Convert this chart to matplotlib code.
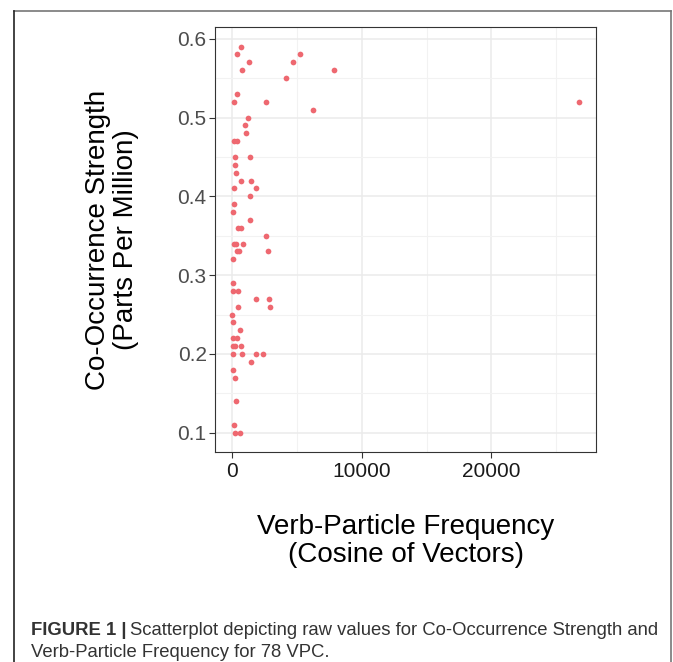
import numpy as np
import matplotlib
matplotlib.use("Agg")
import matplotlib.pyplot as plt
from matplotlib.ticker import MultipleLocator

# Data (verb-particle frequency vs co-occurrence strength)
freq = [670, 360, 5230, 1260, 4690, 750, 7850, 4130, 360, 100,
        2570, 26750, 6230, 1210, 950, 1030, 150, 360, 210, 1340,
        210, 290, 650, 1460, 100, 1850, 1390, 150, 50, 1340,
        430, 660, 2590, 150, 260, 800, 340, 540, 2750, 30,
        80, 80, 460, 1850, 2820, 410, 2900, 0, 30, 620,
        50, 330, 20, 210, 670, 30, 750, 1850, 2360, 1410,
        50, 180, 310, 150, 180, 620]
strength = [0.59, 0.58, 0.58, 0.57, 0.57, 0.56, 0.56, 0.55, 0.53, 0.52,
            0.52, 0.52, 0.51, 0.50, 0.49, 0.48, 0.47, 0.47, 0.45, 0.45,
            0.44, 0.43, 0.42, 0.42, 0.41, 0.41, 0.40, 0.39, 0.38, 0.37,
            0.36, 0.36, 0.35, 0.34, 0.34, 0.34, 0.33, 0.33, 0.33, 0.32,
            0.29, 0.28, 0.28, 0.27, 0.27, 0.26, 0.26, 0.25, 0.24, 0.23,
            0.22, 0.22, 0.21, 0.21, 0.21, 0.20, 0.20, 0.20, 0.20, 0.19,
            0.18, 0.17, 0.14, 0.11, 0.10, 0.10]

xTicks = [0, 10000, 20000]
yTicks = [0.1, 0.2, 0.3, 0.4, 0.5, 0.6]

plt.rcParams["font.family"] = ["Liberation Sans", "DejaVu Sans"]

W, H = 673, 662
fig = plt.figure(figsize=(W/100, H/100), dpi=100)

# Panel position in pixels
left, right, top, bottom = 215, 596, 27.3, 452
ax = fig.add_axes([left/W, 1-bottom/H, (right-left)/W, (bottom-top)/H])

ax.scatter(freq, strength, s=17, color="#EE6870", linewidths=0, zorder=3)

# ggplot-like 5% expansion
xr = max(freq) - min(freq)
yr = max(strength) - min(strength)
ax.set_xlim(min(freq) - 0.05*xr, max(freq) + 0.05*xr)
ax.set_ylim(min(strength) - 0.05*yr, max(strength) + 0.05*yr)

ax.set_xticks(xTicks)
ax.set_xticklabels([str(t) for t in xTicks])
ax.set_yticks(yTicks)
ax.set_yticklabels(["{:.1f}".format(t) for t in yTicks])
ax.xaxis.set_minor_locator(MultipleLocator(5000))
ax.yaxis.set_minor_locator(MultipleLocator(0.05))

ax.grid(which="major", color="#EBEBEB", linewidth=1.1, zorder=0)
ax.grid(which="minor", color="#F2F2F2", linewidth=0.8, zorder=0)
ax.set_axisbelow(True)

for sp in ax.spines.values():
    sp.set_color("#333333")
    sp.set_linewidth(0.8)

ax.tick_params(which="major", direction="out", length=4, width=0.8,
               color="#333333", labelsize=15)
ax.tick_params(which="minor", length=0)
ax.tick_params(axis="y", labelcolor="#4D4D4D", pad=2)
ax.tick_params(axis="x", labelcolor="#1A1A1A", pad=3)

# Axis titles
fig.text(405.5/W, 1-541/H, "Verb-Particle Frequency\n(Cosine of Vectors)",
         ha="center", va="center", fontsize=20, linespacing=1.12)
fig.text(112/W, 1-239.5/H, "Co-Occurrence Strength\n(Parts Per Million)",
         ha="center", va="center", fontsize=20, rotation=90, linespacing=1.12)

# Frame around figure
fig.add_artist(plt.Line2D([14/W, 671/W], [1-11/H, 1-11/H],
                          transform=fig.transFigure, color="#777777", lw=1.2))
fig.add_artist(plt.Line2D([14/W, 14/W], [1-11/H, 0],
                          transform=fig.transFigure, color="#222222", lw=1.2))
fig.add_artist(plt.Line2D([671/W, 671/W], [1-11/H, 0],
                          transform=fig.transFigure, color="#777777", lw=1.2))

# Caption
capSize = 13.3
capY1 = 1-635/H
capY2 = 1-657/H
t = fig.text(31/W, capY1, "FIGURE 1 |", fontsize=capSize, fontweight="bold",
             color="#333333", va="baseline")
fig.canvas.draw()
bb = t.get_window_extent()
fig.text((bb.x1 + 4)/W, capY1,
         "Scatterplot depicting raw values for Co-Occurrence Strength and",
         fontsize=capSize, color="#333333", va="baseline")
fig.text(31/W, capY2, "Verb-Particle Frequency for 78 VPC.",
         fontsize=capSize, color="#333333", va="baseline")

fig.savefig("out.png", dpi=100)
